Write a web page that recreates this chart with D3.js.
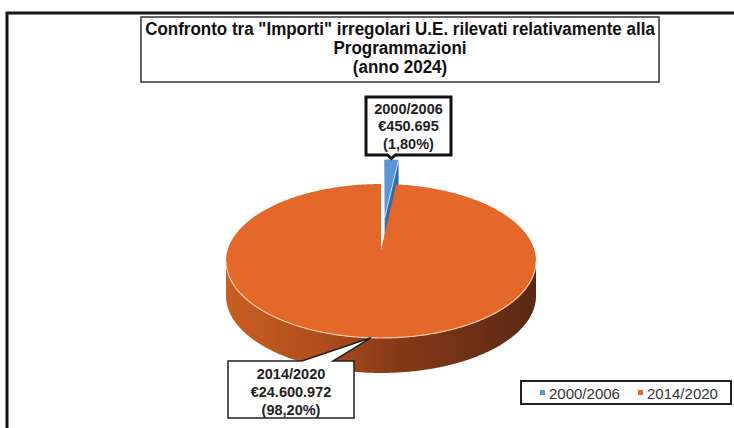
<!DOCTYPE html>
<html>
<head>
<meta charset="utf-8">
<script src="https://cdn.jsdelivr.net/npm/d3@7"></script>
<style>
  body { margin: 0; background: #fff; }
  text { font-family: "Liberation Sans", Arial, sans-serif; }
</style>
</head>
<body>
<div id="chart"></div>
<script>
// data
var categories = ["2000/2006", "2014/2020"];
var values = [450695, 24600972];
var titleLines = [
    "Confronto tra \"Importi\" irregolari U.E. rilevati relativamente alla",
    "Programmazioni",
    "(anno 2024)"
];
var topColors = ["#5a96d6", "#e3682a"];

var it = d3.formatLocale({decimal: ",", thousands: ".", grouping: [3], currency: ["€", ""]});
var fmtMoney = it.format("$,.0f");
var fmtPct = it.format(".2f");

var W = 734, H = 428;
var svg = d3.select("#chart").append("svg")
    .attr("width", W)
    .attr("height", H);

// outer frame (runs past the right and bottom edges)
svg.append("rect")
    .attr("x", 7).attr("y", 13)
    .attr("width", 800).attr("height", 500)
    .attr("fill", "none")
    .attr("stroke", "#151515")
    .attr("stroke-width", 3);

// title box
svg.append("rect")
    .attr("x", 141).attr("y", 17)
    .attr("width", 518).attr("height", 65)
    .attr("fill", "#fff")
    .attr("stroke", "#333")
    .attr("stroke-width", 1.5);

svg.selectAll(".title").data(titleLines).enter().append("text")
    .attr("class", "title")
    .attr("transform", function(d, i) { return "translate(400," + (35 + i * 19) + ") scale(1,1.12)"; })
    .attr("text-anchor", "middle")
    .style("font-weight", "bold")
    .style("font-size", "17px")
    .attr("fill", "#111")
    .text(function(d) { return d; });

// ************** 3D pie *****************
var pie = d3.pie().sort(null).value(function(d) { return d; });
var arcs = pie(values);
var total = d3.sum(values);

var cx = 381, cy = 250, A = 75.4, B = 153.4, k = 0.143, depth = 35;
var explode = [0.45, 0];

function proj(a, r, off, dy) {
    var u = r * Math.sin(a) + off[0],
        v = r * Math.cos(a) + off[1];
    return [cx + B * u / (1 + k * v), cy - A * v / (1 + k * v) + (dy || 0)];
}
function offsetOf(d, i) {
    var m = (d.startAngle + d.endAngle) / 2;
    return [explode[i] * Math.sin(m), explode[i] * Math.cos(m)];
}
function arcPts(a0, a1, off, dy) {
    var n = Math.max(4, Math.ceil(Math.abs(a1 - a0) / 0.01));
    return d3.range(n + 1).map(function(j) {
        return proj(a0 + (a1 - a0) * j / n, 1, off, dy);
    });
}
var line = d3.line();

var defs = svg.append("defs");
var grad = defs.append("linearGradient")
    .attr("id", "sideGrad")
    .attr("gradientUnits", "userSpaceOnUse")
    .attr("x1", 226).attr("x2", 536).attr("y1", 0).attr("y2", 0);
grad.append("stop").attr("offset", "0").attr("stop-color", "#ca5e22");
grad.append("stop").attr("offset", "0.3").attr("stop-color", "#b04e1d");
grad.append("stop").attr("offset", "0.55").attr("stop-color", "#853a17");
grad.append("stop").attr("offset", "1").attr("stop-color", "#5a2914");

var pieG = svg.append("g");

// small slice (exploded, behind): its right cut face then top face
var d0 = arcs[0], off0 = offsetOf(d0, 0);
pieG.append("path")
    .attr("d", line([proj(0, 0, off0), proj(d0.endAngle, 1, off0),
                     proj(d0.endAngle, 1, off0, depth), proj(0, 0, off0, depth)]) + "Z")
    .attr("fill", "#2d6cb2");
pieG.append("path")
    .attr("d", line([proj(0, 0, off0)].concat(arcPts(d0.startAngle, d0.endAngle, off0))) + "Z")
    .attr("fill", topColors[0]);
pieG.append("path")
    .attr("d", line([proj(0, 0, off0), proj(d0.endAngle, 1, off0)]))
    .attr("stroke", "#e6f0fa").attr("stroke-width", 0.8).attr("fill", "none");

// big slice: front wall then top face
var d1 = arcs[1], off1 = offsetOf(d1, 1);
var aR = Math.acos(-k), aL = 2 * Math.PI - Math.acos(-k);
var wallTop = arcPts(aR, aL, off1),
    wallBot = arcPts(aR, aL, off1, depth).reverse();
pieG.append("path")
    .attr("d", line(wallTop.concat(wallBot)) + "Z")
    .attr("fill", "url(#sideGrad)");
pieG.append("path")
    .attr("d", line([proj(0, 0, off1)].concat(arcPts(d1.startAngle, d1.endAngle, off1))) + "Z")
    .attr("fill", topColors[1]);
pieG.append("path")
    .attr("d", line(wallTop))
    .attr("fill", "none")
    .attr("stroke", "#f4c9a8")
    .attr("stroke-width", 1.2);

// ************** callouts *****************
function labelLines(i) {
    return [categories[i], fmtMoney(values[i]), "(" + fmtPct(values[i] / total * 100) + "%)"];
}

// 2000/2006 callout: pointer at the bottom
var tip0 = proj((d0.startAngle + d0.endAngle) / 2, 1, off0);
var b0 = {x0: 366, x1: 451, y0: 97, y1: 155};
svg.append("path")
    .attr("d", "M" + b0.x0 + "," + b0.y0 + "H" + b0.x1 + "V" + b0.y1 +
        "H" + (tip0[0] + 4) + "L" + tip0[0] + "," + (tip0[1] - 1) + "L" + (tip0[0] - 4) + "," + b0.y1 +
        "H" + b0.x0 + "Z")
    .attr("fill", "#fff")
    .attr("stroke", "#111")
    .attr("stroke-width", 3)
    .attr("stroke-linejoin", "miter");
svg.selectAll(".lab0").data(labelLines(0)).enter().append("text")
    .attr("x", (b0.x0 + b0.x1) / 2)
    .attr("y", function(d, i) { return 113.5 + i * 17.5; })
    .attr("text-anchor", "middle")
    .style("font-weight", "bold")
    .style("font-size", "14.5px")
    .attr("fill", "#222")
    .text(function(d) { return d; });

// 2014/2020 callout: pointer at the top
var tip1 = proj((d1.startAngle + d1.endAngle) / 2, 1, off1);
var b1 = {x0: 228, x1: 354, y0: 361, y1: 418};
svg.append("path")
    .attr("d", "M" + b1.x0 + "," + b1.y0 + "H302L" + tip1[0] + "," + tip1[1] + "L333," + b1.y0 +
        "H" + b1.x1 + "V" + b1.y1 + "H" + b1.x0 + "Z")
    .attr("fill", "#fff")
    .attr("stroke", "#222")
    .attr("stroke-width", 1.5);
svg.selectAll(".lab1").data(labelLines(1)).enter().append("text")
    .attr("x", (b1.x0 + b1.x1) / 2)
    .attr("y", function(d, i) { return 378.5 + i * 18; })
    .attr("text-anchor", "middle")
    .style("font-weight", "bold")
    .style("font-size", "14.5px")
    .attr("fill", "#222")
    .text(function(d) { return d; });

// ************** legend *****************
svg.append("rect")
    .attr("x", 521).attr("y", 381)
    .attr("width", 210).attr("height", 23)
    .attr("fill", "#fff")
    .attr("stroke", "#222")
    .attr("stroke-width", 2);

var legX = d3.scalePoint().domain(categories).range([540, 638]);
var leg = svg.selectAll(".leg").data(categories).enter().append("g")
    .attr("transform", function(d) { return "translate(" + legX(d) + ",390)"; });
leg.append("rect")
    .attr("width", 5).attr("height", 5)
    .attr("fill", function(d, i) { return topColors[i]; });
leg.append("text")
    .attr("x", 9).attr("y", 8.5)
    .style("font-size", "15px")
    .attr("fill", "#333")
    .text(function(d) { return d; });
</script>
</body>
</html>
